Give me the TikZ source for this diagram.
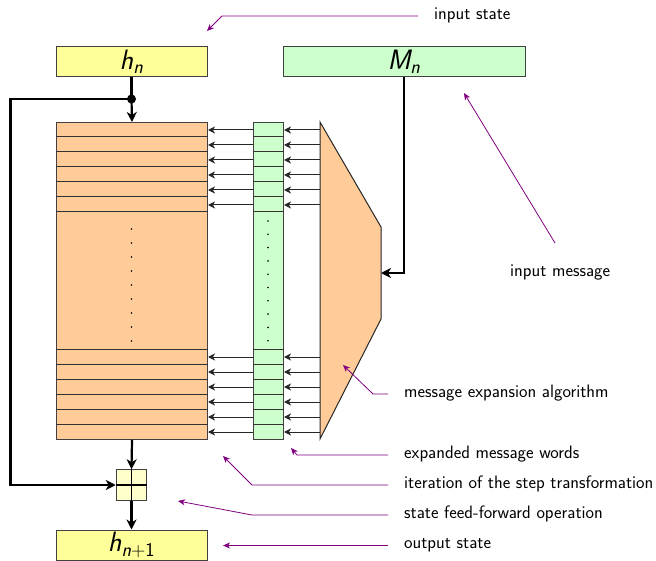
\documentclass[tikz,border=0pt]{standalone}
\usepackage{amsmath}
\usetikzlibrary{arrows.meta}
\definecolor{stateyellow}{RGB}{255,255,153}
\definecolor{plusyellow}{RGB}{255,255,204}
\definecolor{msggreen}{RGB}{204,255,204}
\definecolor{iterorange}{RGB}{255,204,153}
\definecolor{notecol}{RGB}{128,0,128}
\newcommand{\sfv}[1]{\textsf{\itshape #1}}
\begin{document}
\begin{tikzpicture}[x=1pt,y=-1pt,
  box/.style={draw=black!75, line width=1pt, inner sep=0pt},
  bigarrow/.style={line width=2.2pt, -{Stealth[length=10pt,width=10pt,inset=3pt]}},
  smallarrow/.style={line width=1pt, draw=black!85, -{Stealth[length=7pt,width=7pt,inset=2pt]}},
  note/.style={draw=notecol, line width=0.8pt, -{Stealth[length=7pt,width=6pt,inset=2pt]}},
  lbl/.style={anchor=mid west, font=\sffamily\fontsize{18}{20}\selectfont, inner sep=0pt},
  math/.style={font=\fontsize{28}{30}\selectfont}]
\useasboundingbox (0,0) rectangle (656,561);

% state and message boxes
\node[box, fill=stateyellow, minimum width=151pt, minimum height=30pt, math] (hn) at (131.5,62) {$\sfv{h}_{\sfv{n}}$};
\node[box, fill=msggreen, minimum width=242pt, minimum height=30pt, math] (Mn) at (404,62) {$\sfv{M}_{\sfv{n}}$};
\node[box, fill=stateyellow, minimum width=151pt, minimum height=30pt, math] (hn1) at (131.5,545) {\sfv{h}\textsubscript{\sfv{n}\textsf{+1}}};

% step iterations
\node[box, fill=iterorange, minimum width=151pt, minimum height=317pt, anchor=north west] (iter) at (56,122) {};
\foreach \y in {137,152,167,182,197,212,349,364,379,394,409,424}
  \draw[black!80, line width=1pt] (iter.west |- 0,\y) -- (iter.east |- 0,\y);
\foreach \i in {0,...,8}
  \fill (131.5,229+14*\i) circle (0.9pt);

% expanded message words
\node[box, fill=msggreen, minimum width=30pt, minimum height=317pt, anchor=north west] (words) at (253,122) {};
\foreach \y in {137,152,167,182,197,212,349,364,379,394,409,424}
  \draw[black!80, line width=1pt] (words.west |- 0,\y) -- (words.east |- 0,\y);
\foreach \i in {0,...,9}
  \fill (268,221+13.3*\i) circle (0.9pt);

% message expansion
\draw[black!85, line width=1pt, fill=iterorange] (320,122) -- (381,227) -- (381,319) -- (320,439) -- cycle;
\coordinate (expL) at (320,280);
\coordinate (expin) at (381,273);

\foreach \y in {130,145,160,175,190,205,357,372,387,402,417,432} {
  \draw[smallarrow] (expL |- 0,\y) -- (words.east |- 0,\y);
  \draw[smallarrow] (words.west |- 0,\y) -- (iter.east |- 0,\y);
}

% feed-forward
\node[box, fill=plusyellow, minimum width=30.5pt, minimum height=30.5pt] (plus) at (131.5,485) {};
\draw[line width=1.2pt] (plus.north) -- (plus.south) (plus.west) -- (plus.east);

\coordinate (split) at (131.5,99);
\draw[line width=2.2pt] (hn.south) -- (split);
\fill (split) circle (4.5pt);
\draw[bigarrow] (split) -- (iter.north);
\draw[bigarrow] (split) -- ++(-121,0) |- (plus.west);
\draw[bigarrow] (iter.south) -- (plus.north);
\draw[bigarrow] (plus.south) -- (hn1.north);
\draw[bigarrow] (Mn.south) |- (expin);

% annotations
\node[lbl] (l1) at (434,17.5) {input state};
\node[lbl] (l2) at (510,274.5) {input message};
\node[lbl] (l3) at (404,395) {message expansion algorithm};
\node[lbl] (l4) at (404,456) {expanded message words};
\node[lbl] (l5) at (404,486) {iteration of the step transformation};
\node[lbl] (l6) at (404,516) {state feed-forward operation};
\node[lbl] (l7) at (404,546) {output state};

\coordinate (t1) at (207,31);
\coordinate (t2) at (464,93);
\coordinate (t3) at (343,365);
\coordinate (t4) at (291,448);
\coordinate (t5) at (223,456);
\coordinate (t6) at (178,501);
\coordinate (t7) at (223,545.5);
\coordinate (s2) at (555,243);

\draw[note] ([shift={(-16pt,-1.5)}]l1.mid west) -- (222,16) -- (t1);
\draw[note] (s2) -- (t2);
\draw[note] ([shift={(-16pt,-1)}]l3.mid west) -- (373,394) -- (t3);
\draw[note] ([shift={(-16pt,-1)}]l4.mid west) -- (297,455) -- (t4);
\draw[note] ([shift={(-16pt,-1)}]l5.mid west) -- (252,485) -- (t5);
\draw[note] ([shift={(-16pt,-1)}]l6.mid west) -- (252,515) -- (t6);
\draw[note] ([shift={(-16pt,-0.5)}]l7.mid west) -- (t7);
\end{tikzpicture}
\end{document}
